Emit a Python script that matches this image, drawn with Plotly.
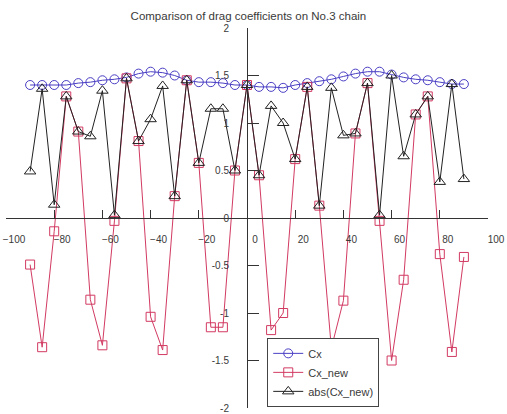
import plotly.graph_objects as go

# Angle positions along the chain
angles = [-90, -85, -80, -75, -70, -65, -60, -55, -50, -45, -40, -35, -30, -25, -20, -15, -10, -5,
          0, 5, 10, 15, 20, 25, 30, 35, 40, 45, 50, 55, 60, 65, 70, 75, 80, 85, 90]

cx = [1.40, 1.40, 1.40, 1.40, 1.42, 1.43, 1.45, 1.46, 1.48, 1.52, 1.54, 1.53, 1.50, 1.45, 1.43, 1.43, 1.42, 1.40,
      1.40, 1.38, 1.38, 1.37, 1.40, 1.42, 1.44, 1.46, 1.49, 1.52, 1.54, 1.54, 1.51, 1.48, 1.46, 1.45, 1.43, 1.41, 1.41]

cx_new = [-0.49, -1.36, -0.14, 1.28, 0.91, -0.86, -1.34, -0.03, 1.47, 0.81, -1.04, -1.39, 0.23, 1.45, 0.58, -1.15, -1.15, 0.50,
          1.40, 0.45, -1.18, -1.00, 0.62, 1.38, 0.13, -1.37, -0.87, 0.89, 1.42, -0.03, -1.50, -0.65, 1.09, 1.28, -0.38, -1.41, -0.41]

abs_cx_new = [abs(v) for v in cx_new]

x_ticks = [-100, -80, -60, -40, -20, 0, 20, 40, 60, 80, 100]
y_ticks = [-2, -1.5, -1, -0.5, 0, 0.5, 1, 1.5, 2]
y_tick_text = ["-2", "-1.5", "-1", "-0.5", "0", "0.5", "1", "1.5", "2"]

FONT = "Liberation Sans, Arial, sans-serif"
TXT = "#3a3a3a"

fig = go.Figure()
fig.add_trace(go.Scatter(
    x=angles, y=cx, name="Cx", mode="lines+markers",
    line=dict(color="#4a3fc4", width=1),
    marker=dict(symbol="circle-open", size=9, color="#4a3fc4", line=dict(width=1)),
))
fig.add_trace(go.Scatter(
    x=angles, y=cx_new, name="Cx_new", mode="lines+markers",
    line=dict(color="#d23a62", width=1),
    marker=dict(symbol="square-open", size=9, color="#d23a62", line=dict(width=1)),
))
fig.add_trace(go.Scatter(
    x=angles, y=abs_cx_new, name="abs(Cx_new)", mode="lines+markers",
    line=dict(color="#222222", width=1),
    marker=dict(symbol="triangle-up-open", size=10, color="#222222", line=dict(width=1)),
))

fig.update_layout(
    width=507, height=414,
    margin=dict(l=6, r=19, t=28, b=6, autoexpand=False),
    paper_bgcolor="white", plot_bgcolor="white",
    font=dict(family=FONT, size=10, color=TXT),
    title=dict(text="Comparison of drag coefficients on No.3 chain",
               x=0.49, xanchor="center", y=0.962, yanchor="middle",
               font=dict(family=FONT, size=11.5, color=TXT)),
    showlegend=True,
    legend=dict(x=0.542, y=0.003, xanchor="left", yanchor="bottom",
                bgcolor="white", bordercolor="#444", borderwidth=1,
                font=dict(family=FONT, size=11, color=TXT),
                tracegroupgap=0, itemwidth=30),
    xaxis=dict(range=[-100, 100], domain=[0, 1], anchor="free", position=0.5,
               automargin=False,
               showgrid=False, zeroline=False, showline=True, linecolor="#333", linewidth=1,
               tickvals=x_ticks, ticks="inside", ticklen=8, tickcolor="#333",
               ticklabelshift=8, ticklabelstandoff=12, ticklabeloverflow="allow",
               tickfont=dict(family=FONT, size=10, color=TXT)),
    yaxis=dict(range=[-2, 2], domain=[0, 1], anchor="free", position=0.5, side="left",
               automargin=False,
               showgrid=False, zeroline=False, showline=True, linecolor="#333", linewidth=1,
               tickvals=y_ticks, ticktext=y_tick_text, ticks="inside", ticklen=11, tickcolor="#333",
               ticklabelstandoff=16, ticklabeloverflow="allow",
               tickfont=dict(family=FONT, size=10, color=TXT)),
)

fig.write_html("out.html")
